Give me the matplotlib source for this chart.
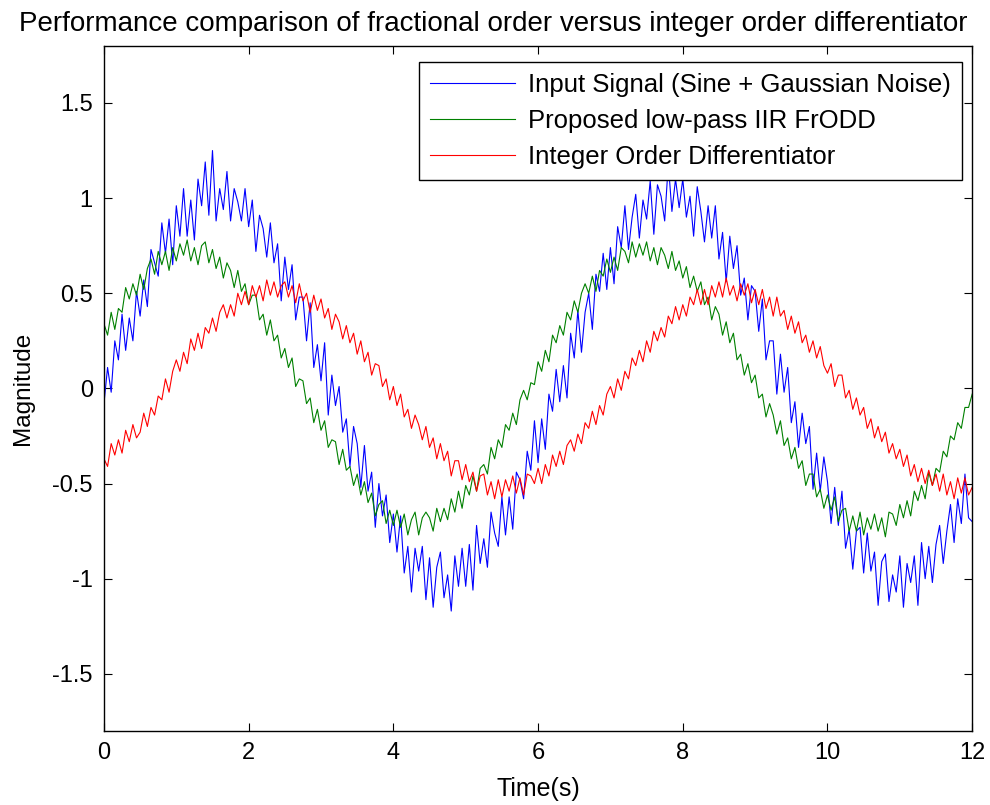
import numpy as np
import matplotlib
matplotlib.use("Agg")
import matplotlib.pyplot as plt

plt.rcParams['font.family'] = ['Liberation Sans', 'DejaVu Sans']

# samples every 0.05 s, 0 .. 12 s
t_start, t_end, n_samples = 0.0, 12.0, 241

input_signal = [
    -0.08, 0.11, -0.02, 0.25, 0.15, 0.39, 0.20, 0.37, 0.25, 0.51,
    0.38, 0.57, 0.43, 0.73, 0.66, 0.59, 0.87, 0.71, 0.89, 0.65,
    0.96, 0.80, 1.05, 0.80, 0.99, 0.78, 1.10, 0.96, 1.19, 0.91,
    1.25, 0.88, 1.05, 0.94, 1.14, 0.88, 1.05, 0.98, 0.88, 1.05,
    0.85, 0.99, 0.72, 0.91, 0.84, 0.69, 0.87, 0.66, 0.76, 0.46,
    0.69, 0.52, 0.65, 0.36, 0.48, 0.48, 0.25, 0.45, 0.11, 0.23,
    0.04, 0.24, -0.14, 0.07, -0.09, 0.01, -0.23, -0.16, -0.41, -0.20,
    -0.29, -0.52, -0.30, -0.54, -0.44, -0.73, -0.50, -0.67, -0.56, -0.81,
    -0.66, -0.86, -0.67, -0.97, -0.83, -1.07, -0.84, -0.96, -0.83, -1.11,
    -0.89, -1.15, -0.94, -0.86, -1.10, -0.98, -1.17, -0.88, -1.04, -0.84,
    -1.04, -0.82, -1.06, -0.72, -0.92, -0.79, -0.94, -0.65, -0.76, -0.83,
    -0.57, -0.77, -0.57, -0.74, -0.44, -0.48, -0.58, -0.33, -0.43, -0.17,
    -0.39, -0.16, -0.32, -0.03, -0.12, 0.10, -0.07, 0.12, -0.05, 0.29,
    0.16, 0.41, 0.19, 0.40, 0.50, 0.31, 0.60, 0.51, 0.71, 0.52,
    0.74, 0.55, 0.85, 0.74, 0.96, 0.73, 0.90, 1.02, 0.79, 0.99,
    0.89, 1.09, 0.81, 1.07, 1.01, 0.88, 1.18, 0.93, 1.10, 0.95,
    1.10, 0.90, 1.01, 0.80, 1.06, 0.93, 0.77, 0.96, 0.79, 0.96,
    0.68, 0.82, 0.56, 0.80, 0.63, 0.75, 0.49, 0.58, 0.36, 0.54,
    0.51, 0.30, 0.47, 0.15, 0.25, 0.25, -0.03, 0.18, -0.02, 0.11,
    -0.18, -0.07, -0.31, -0.13, -0.29, -0.20, -0.53, -0.34, -0.54, -0.36,
    -0.49, -0.71, -0.52, -0.72, -0.54, -0.84, -0.74, -0.95, -0.75, -0.73,
    -0.97, -0.76, -0.96, -0.86, -1.14, -0.91, -0.87, -1.12, -0.98, -1.07,
    -0.88, -1.15, -0.92, -1.02, -0.88, -1.14, -0.81, -1.00, -0.83, -1.02,
    -0.82, -0.72, -0.92, -0.75, -0.61, -0.81, -0.58, -0.71, -0.45, -0.68,
    -0.70,
]

frodd_output = [
    0.34, 0.28, 0.40, 0.31, 0.42, 0.40, 0.53, 0.47, 0.55, 0.49,
    0.60, 0.52, 0.63, 0.68, 0.60, 0.72, 0.65, 0.72, 0.62, 0.74,
    0.67, 0.76, 0.70, 0.78, 0.67, 0.74, 0.65, 0.75, 0.77, 0.66,
    0.73, 0.63, 0.69, 0.58, 0.66, 0.62, 0.53, 0.62, 0.51, 0.55,
    0.44, 0.49, 0.49, 0.36, 0.39, 0.28, 0.36, 0.25, 0.28, 0.16,
    0.21, 0.11, 0.16, 0.01, 0.05, 0.04, -0.08, -0.05, -0.18, -0.11,
    -0.22, -0.17, -0.31, -0.27, -0.28, -0.40, -0.32, -0.43, -0.41, -0.51,
    -0.45, -0.56, -0.49, -0.60, -0.55, -0.67, -0.61, -0.59, -0.71, -0.64,
    -0.72, -0.64, -0.73, -0.66, -0.77, -0.69, -0.65, -0.77, -0.68, -0.65,
    -0.68, -0.75, -0.63, -0.70, -0.63, -0.69, -0.58, -0.65, -0.54, -0.63,
    -0.51, -0.56, -0.46, -0.54, -0.42, -0.40, -0.45, -0.31, -0.37, -0.27,
    -0.31, -0.19, -0.22, -0.13, -0.19, -0.06, -0.01, -0.06, 0.03, 0.02,
    0.14, 0.09, 0.20, 0.14, 0.28, 0.24, 0.33, 0.28, 0.40, 0.36,
    0.46, 0.40, 0.50, 0.55, 0.50, 0.59, 0.51, 0.62, 0.59, 0.68,
    0.61, 0.69, 0.62, 0.74, 0.72, 0.66, 0.77, 0.69, 0.76, 0.70,
    0.77, 0.67, 0.74, 0.65, 0.74, 0.70, 0.63, 0.72, 0.62, 0.67,
    0.58, 0.64, 0.53, 0.59, 0.51, 0.56, 0.44, 0.48, 0.36, 0.43,
    0.39, 0.28, 0.35, 0.24, 0.29, 0.15, 0.18, 0.07, 0.13, 0.03,
    0.07, -0.05, -0.03, -0.15, -0.08, -0.14, -0.24, -0.17, -0.30, -0.26,
    -0.37, -0.31, -0.42, -0.38, -0.51, -0.45, -0.45, -0.57, -0.53, -0.63,
    -0.56, -0.64, -0.57, -0.70, -0.64, -0.63, -0.75, -0.67, -0.75, -0.65,
    -0.77, -0.68, -0.74, -0.66, -0.75, -0.68, -0.78, -0.65, -0.66, -0.72,
    -0.61, -0.68, -0.59, -0.67, -0.54, -0.59, -0.51, -0.58, -0.44, -0.51,
    -0.42, -0.44, -0.33, -0.36, -0.25, -0.27, -0.18, -0.21, -0.10, -0.10,
    -0.03,
]

integer_output = [
    -0.37, -0.41, -0.29, -0.35, -0.27, -0.34, -0.22, -0.28, -0.19, -0.26,
    -0.23, -0.13, -0.20, -0.10, -0.14, -0.04, -0.06, 0.05, -0.02, 0.09,
    0.15, 0.09, 0.19, 0.13, 0.26, 0.20, 0.29, 0.21, 0.32, 0.29,
    0.37, 0.30, 0.40, 0.44, 0.37, 0.44, 0.38, 0.50, 0.44, 0.51,
    0.44, 0.54, 0.48, 0.54, 0.46, 0.57, 0.49, 0.56, 0.48, 0.54,
    0.56, 0.48, 0.54, 0.45, 0.55, 0.46, 0.50, 0.40, 0.49, 0.41,
    0.47, 0.37, 0.42, 0.31, 0.39, 0.35, 0.26, 0.33, 0.24, 0.29,
    0.18, 0.25, 0.14, 0.19, 0.07, 0.13, 0.12, 0.01, 0.05, -0.06,
    0.01, -0.09, -0.03, -0.15, -0.11, -0.21, -0.14, -0.19, -0.27, -0.20,
    -0.31, -0.26, -0.37, -0.29, -0.38, -0.33, -0.46, -0.38, -0.38, -0.48,
    -0.40, -0.49, -0.44, -0.54, -0.46, -0.45, -0.56, -0.49, -0.58, -0.48,
    -0.57, -0.48, -0.54, -0.46, -0.55, -0.47, -0.56, -0.45, -0.46, -0.50,
    -0.42, -0.50, -0.40, -0.46, -0.35, -0.41, -0.33, -0.40, -0.30, -0.27,
    -0.33, -0.24, -0.29, -0.18, -0.21, -0.12, -0.19, -0.09, -0.14, -0.03,
    0.01, -0.05, 0.05, -0.01, 0.09, 0.05, 0.16, 0.12, 0.20, 0.14,
    0.25, 0.19, 0.30, 0.25, 0.32, 0.27, 0.38, 0.34, 0.43, 0.36,
    0.44, 0.38, 0.48, 0.44, 0.52, 0.44, 0.52, 0.44, 0.54, 0.48,
    0.56, 0.48, 0.58, 0.49, 0.54, 0.46, 0.55, 0.49, 0.55, 0.45,
    0.52, 0.44, 0.52, 0.42, 0.48, 0.38, 0.48, 0.38, 0.41, 0.31,
    0.38, 0.29, 0.35, 0.24, 0.28, 0.19, 0.25, 0.16, 0.22, 0.12,
    0.08, 0.13, 0.01, 0.07, 0.07, -0.05, -0.01, -0.11, -0.05, -0.14,
    -0.10, -0.21, -0.16, -0.26, -0.20, -0.28, -0.23, -0.34, -0.29, -0.37,
    -0.32, -0.41, -0.35, -0.46, -0.40, -0.49, -0.42, -0.50, -0.43, -0.51,
    -0.45, -0.54, -0.45, -0.56, -0.49, -0.58, -0.47, -0.55, -0.47, -0.56,
    -0.52,
]

labels = ['Input Signal (Sine + Gaussian Noise)',
          'Proposed low-pass IIR FrODD',
          'Integer Order Differentiator']
colors = ['#0000ff', '#008000', '#ff0000']

x_ticks = [0, 2, 4, 6, 8, 10, 12]
y_ticks = [-1.5, -1, -0.5, 0, 0.5, 1, 1.5]
y_tick_labels = ['-1.5', '-1', '-0.5', '0', '0.5', '1', '1.5']

time = np.linspace(t_start, t_end, n_samples)

fig = plt.figure(figsize=(9.9, 8.05), dpi=100)
ax = fig.add_axes([0.105, 0.092, 0.877, 0.851])

for ys, c, lab in zip([input_signal, frodd_output, integer_output], colors, labels):
    ax.plot(time, ys, color=c, lw=0.8, label=lab)

ax.set_xlim(0, 12)
ax.set_ylim(-1.8, 1.8)
ax.set_xticks(x_ticks)
ax.set_yticks(y_ticks)
ax.set_yticklabels(y_tick_labels)
ax.tick_params(direction='in', length=6, width=0.8, top=True, right=True,
               labelsize=17, pad=8)
for sp in ax.spines.values():
    sp.set_linewidth(1.0)

# title sits a bit left of the axes centre in the reference
ax.set_title('Performance comparison of fractional order versus integer order differentiator',
             fontsize=20, pad=11, x=0.448)
ax.set_xlabel('Time(s)', fontsize=18, labelpad=9)
ax.set_ylabel('Magnitude', fontsize=17.5, labelpad=13)

leg = ax.legend(loc='upper right', bbox_to_anchor=(0.9885, 0.9766), borderaxespad=0,
                fontsize=18.5, fancybox=False, framealpha=1, edgecolor='black',
                handlelength=3.3, handletextpad=0.5, labelspacing=0.45,
                borderpad=0.45)
leg.get_frame().set_linewidth(1.0)

fig.savefig('out.png', dpi=100)
